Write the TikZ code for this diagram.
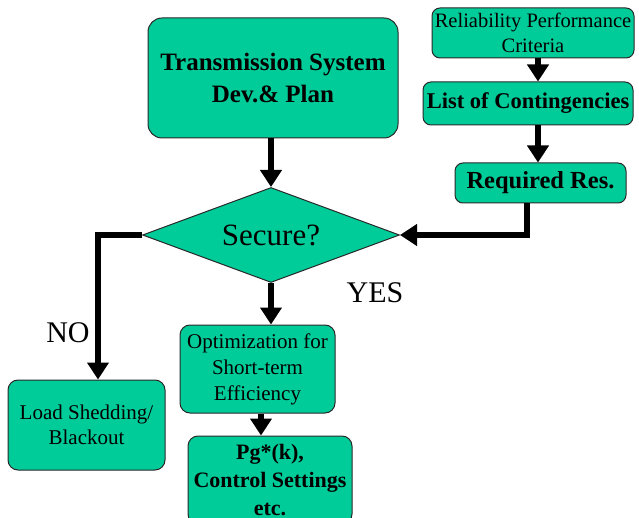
\documentclass[tikz,border=0pt]{standalone}
\usepackage{fontspec}
\setmainfont{Liberation Serif}
\usetikzlibrary{shapes.geometric,arrows.meta,calc}
\definecolor{boxgreen}{RGB}{0,204,153}
\definecolor{edgegray}{RGB}{40,40,40}
\begin{document}
\begin{tikzpicture}[x=1pt,y=-1pt,
  box/.style={draw=edgegray, line width=1pt, fill=boxgreen, rounded corners=8pt, align=center, inner sep=0pt},
  arr/.style={line width=6pt, line join=miter, -{Triangle[length=17pt,width=21pt]}},
  lbl/.style={font=\fontsize{30}{30}\selectfont, inner sep=0pt}]
\useasboundingbox (0,0) rectangle (639,518);
\clip (0,0) rectangle (639,518);
% nodes
\node[box, rounded corners=14pt, minimum width=250pt, minimum height=120pt,
      font=\fontsize{25}{32}\selectfont\bfseries] (tsd) at (273,78) {Transmission System\\Dev.\& Plan};
\node[draw=edgegray, line width=1pt, fill=boxgreen, diamond, aspect=2.7,
      minimum width=257pt, minimum height=95pt, inner sep=0pt,
      font=\fontsize{31}{36}\selectfont] (sec) at (271,235) {Secure?};
\node[box, minimum width=202pt, minimum height=50pt,
      font=\fontsize{20.5}{25}\selectfont] (rel) at (533,33) {Reliability Performance\\Criteria};
\node[box, minimum width=210pt, minimum height=43pt,
      font=\fontsize{22.5}{27}\selectfont\bfseries] (list) at (528,103.5) {List of Contingencies};
\node[box, minimum width=171pt, minimum height=40pt,
      font=\fontsize{24.5}{29}\selectfont\bfseries] (req) at (540.5,183) {Required Res.};
\node[box, rounded corners=10pt, minimum width=155pt, minimum height=88pt,
      font=\fontsize{21}{26}\selectfont] (opt) at (257.5,369) {Optimization for\\Short-term\\Efficiency};
\node[box, rounded corners=10pt, minimum width=164pt, minimum height=88pt,
      font=\fontsize{22}{28}\selectfont\bfseries] (pg) at (270,480) {Pg*(k),\\Control Settings\\etc.};
\node[box, rounded corners=10pt, minimum width=157pt, minimum height=90pt,
      font=\fontsize{21}{25}\selectfont] (load) at (86.5,425) {Load Shedding/\\Blackout};
\node[lbl] (yes) at (375,293) {YES};
\node[lbl] (no) at (68,333) {NO};
% helper x positions
\coordinate (ax) at (538,0);
\coordinate (bx) at (527,0);
\coordinate (cx) at (98,0);
\coordinate (dx) at (261,0);
% connectors
\draw[arr] (tsd.south -| sec.north) -- (sec.north);
\draw[arr] (sec.south) -- (opt.north -| sec.south);
\draw[arr] (opt.south -| dx) -- (pg.north -| dx);
\draw[arr] (sec.west) -| (load.north -| cx);
\draw[arr] (rel.south -| ax) -- (list.north -| ax);
\draw[arr] (list.south -| ax) -- (req.north -| ax);
\draw[arr] (req.south -| bx) |- (sec.east);
\end{tikzpicture}
\end{document}
